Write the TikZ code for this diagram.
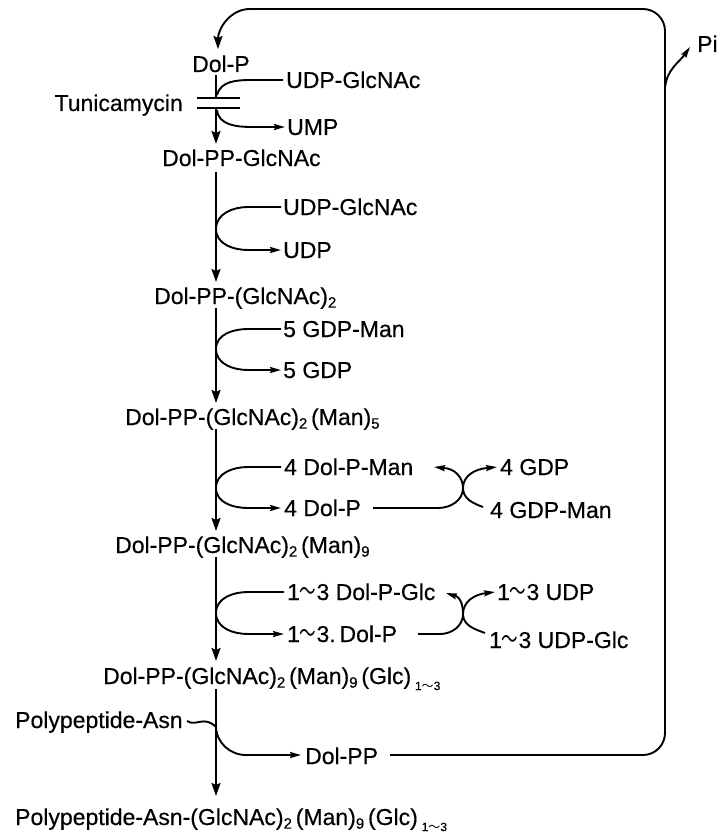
\documentclass[tikz,border=0pt]{standalone}
\usepackage{fontspec}
\usepackage{graphicx}
\setmainfont{Liberation Sans}[FakeBold=0.4]
\newfontfamily\cjkfont{Noto Sans CJK JP}
\usetikzlibrary{arrows.meta}
\newcommand\mysub[1]{\raisebox{-0.3ex}{\fontsize{15}{15}\selectfont #1}}
\newcommand\wv{\scalebox{0.72}[1.1]{\cjkfont 〜}}
\newcommand\rng{\raisebox{-0.5ex}{\fontsize{12}{12}\selectfont 1{\cjkfont 〜}3}}
\begin{document}
\begin{tikzpicture}[x=1pt,y=-1pt,
  lbl/.style={font=\fontsize{23}{26}\selectfont, inner sep=0pt, anchor=base west},
  ln/.style={line width=1.9pt},
  down/.style={ln, -{Stealth[length=13pt,width=9pt,inset=2pt]}},
  side/.style={ln, -{Stealth[length=11pt,width=6pt,inset=1.5pt]}}]
\useasboundingbox (0,0) rectangle (721,832);
% labels
\node[lbl] (dolp) at (192,72) {Dol-P};
\node[lbl] (udpg1) at (286,88) {UDP-GlcNAc};
\node[lbl,anchor=base east] (tuni) at (183,111) {Tunicamycin};
\node[lbl] (ump) at (287,135) {UMP};
\node[lbl] (dpg) at (162,166) {Dol-PP-GlcNAc};
\node[lbl] (udpg2) at (283,215) {UDP-GlcNAc};
\node[lbl] (udp) at (283,258) {UDP};
\node[lbl] (dpg2) at (154,304) {Dol-PP-(GlcNAc)\mysub{2}};
\node[lbl] (gdpman5) at (283,337) {5 GDP-Man};
\node[lbl] (gdp5) at (283,378) {5 GDP};
\node[lbl] (man5) at (125,425) {Dol-PP-(GlcNAc)\mysub{2}\,(Man)\mysub{5}};
\node[lbl] (dpman) at (284,475) {4 Dol-P-Man};
\node[lbl] (dp4) at (284,516) {4 Dol-P};
\node[lbl] (gdp4) at (500,475) {4 GDP};
\node[lbl] (gdpman4) at (490,518) {4 GDP-Man};
\node[lbl] (man9) at (115,553) {Dol-PP-(GlcNAc)\mysub{2}\,(Man)\mysub{9}};
\node[lbl] (dpglc) at (287,600) {1\wv3 Dol-P-Glc};
\node[lbl] (dp13) at (287,642) {1\wv3.\,Dol-P};
\node[lbl] (udp13) at (497,600) {1\wv3 UDP};
\node[lbl] (udpglc) at (489,648) {1\wv3 UDP-Glc};
\node[lbl] (glc) at (103,684) {Dol-PP-(GlcNAc)\mysub{2}\,(Man)\mysub{9}\,(Glc)\,\rng};
\node[lbl] (pasn) at (15,728) {Polypeptide-Asn};
\node[lbl] (dolpp) at (305,764) {Dol-PP};
\node[lbl] (final) at (15,825) {Polypeptide-Asn-(GlcNAc)\mysub{2}\,(Man)\mysub{9}\,(Glc)\,\rng};
\node[lbl] (pi) at (697,52) {Pi};
% main line
\draw[ln] (216,75) -- (216,97);
\draw[line width=2.4pt] (197,98) -- (240,98) (197,108) -- (240,108);
\draw[down] (216,108) -- (216,144);
\draw[down] (216,172) -- (216,282);
\draw[down] (216,308) -- (216,403);
\draw[down] (216,429) -- (216,531);
\draw[down] (216,557) -- (216,661);
\draw[down] (216,689) -- (216,796);
% tunicamycin step
\draw[ln] (283,80) -- (252,80) to[out=180,in=75] (217,95);
\draw[side] (217,110) to[out=-85,in=180] (252,127) -- (285,127);
% C loops
\draw[side] (281,207) -- (248,207) to[out=180,in=90] (216,229) to[out=-90,in=180] (248,250) -- (281,250);
\draw[side] (281,329) -- (248,329) to[out=180,in=90] (216,349) to[out=-90,in=180] (248,370) -- (281,370);
\draw[side] (281,467) -- (248,467) to[out=180,in=90] (216,488) to[out=-90,in=180] (248,508) -- (281,508);
\draw[side] (284,592) -- (248,592) to[out=180,in=90] (216,613) to[out=-90,in=180] (248,634) -- (284,634);
% exchange X (Man)
\draw[side] (373,508) -- (438,508) to[out=0,in=-90] (463,488) to[out=90,in=185] (487,468) -- (497,467);
\draw[side] (483,507) to[out=160,in=-90] (463,488) to[out=90,in=0] (443,468) -- (434,467);
% exchange X (Glc)
\draw[side] (418,634) -- (440,634) to[out=0,in=-90] (463,614) to[out=90,in=185] (487,593) -- (495,592);
\draw[side] (485,633) to[out=160,in=-90] (463,614) to[out=90,in=0] (452,595) -- (446,593);
% polypeptide
\draw[ln] (187,721) .. controls (196,727) and (204,715) .. (216,727);
\draw[side] (216,726) to[out=-90,in=180] (246,755) -- (301,755);
% recycling loop
\draw[ln, rounded corners=22pt] (390,755) -- (665,755) -- (665,9) -- (250,9);
\draw[down] (250,9) to[out=180,in=90] (218,49);
\draw[side] (665,88) to[out=85,in=235] (690,47);
\end{tikzpicture}
\end{document}
